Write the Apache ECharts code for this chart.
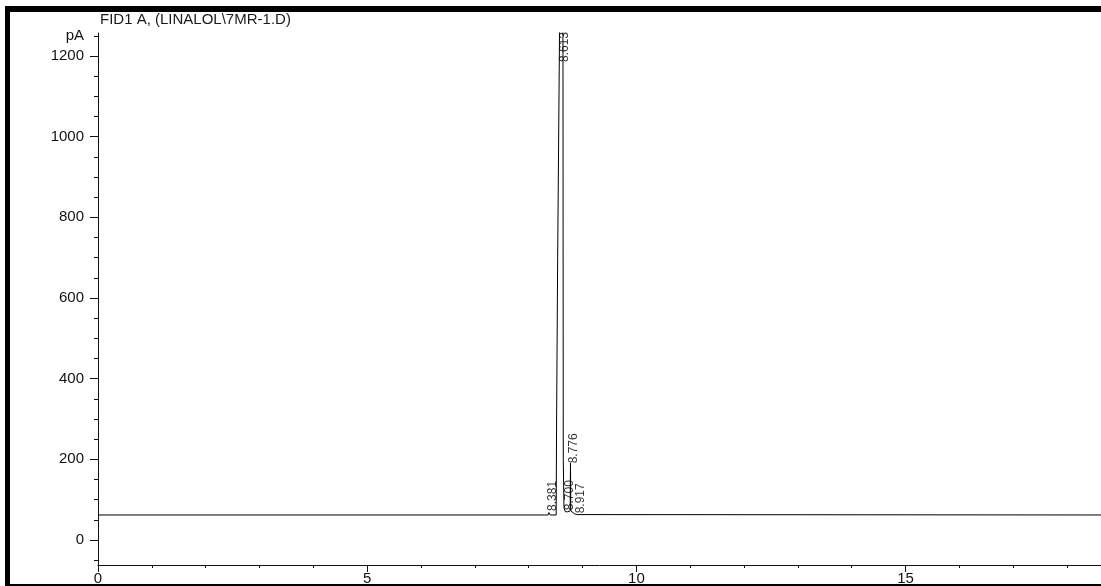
<!DOCTYPE html>
<html>
<head>
<meta charset="utf-8">
<script src="https://cdn.jsdelivr.net/npm/echarts@6/dist/echarts.min.js"></script>
<style>
  html, body { margin: 0; padding: 0; background: #fff; }
  #chart { width: 1101px; height: 586px; }
</style>
</head>
<body>
<div id="chart"></div>
<script>
// Signal header and axis unit
const signalTitle = 'FID1 A, (LINALOL\\7MR-1.D)';
const yUnit = 'pA';

// Axis ticks
const xMajorTicks = [0, 5, 10, 15];
const xMinorTicks = [1, 2, 3, 4, 6, 7, 8, 9, 11, 12, 13, 14, 16, 17, 18];
const yMajorTicks = [0, 200, 400, 600, 800, 1000, 1200];
const yMinorTicks = [-50, 50, 100, 150, 250, 300, 350, 450, 500, 550, 650, 700, 750,
                     850, 900, 950, 1050, 1100, 1150, 1250];

// Detector trace: retention time (min) and signal (pA)
const traceTime = [0, 8.36, 8.375, 8.381, 8.39, 8.40, 8.51, 8.518, 8.538, 8.575, 8.613,
                   8.636, 8.642, 8.655, 8.68, 8.70, 8.72, 8.77, 8.776, 8.782, 8.80,
                   8.85, 8.90, 8.917, 8.935, 18.63];
const traceSignal = [62, 62, 68, 70, 64, 62, 62, 290, 700, 1300, 3500,
                     1300, 200, 80, 70, 74, 70, 72, 190, 72, 68,
                     65, 63, 66, 62, 62];

// Integrated peaks: retention time and apex height (pA)
const peakTimes = [8.381, 8.613, 8.700, 8.776, 8.917];
const peakHeights = [72, 3500, 74, 190, 66];

const xMax = 18.63;
const yMin = -62, yMax = 1257;
const fontFam = '"Liberation Sans", Arial, sans-serif';

const chart = echarts.init(document.getElementById('chart'), null, { renderer: 'canvas' });

chart.setOption({
  animation: false,
  backgroundColor: '#fff',
  title: {
    text: signalTitle,
    left: 100, top: 12, padding: 0,
    textStyle: { fontSize: 15, fontWeight: 'normal', color: '#1a1a1a', fontFamily: fontFam }
  },
  grid: { left: 98, right: 0, top: 33, bottom: 19, containLabel: false },
  xAxis: [
    {
      type: 'value', min: 0, max: xMax, position: 'bottom',
      axisLine: { show: true, onZero: false, lineStyle: { color: '#111', width: 1 } },
      axisTick: { show: true, customValues: xMajorTicks, length: 7, lineStyle: { color: '#111' } },
      axisLabel: { customValues: xMajorTicks, margin: 6, fontSize: 15, color: '#111', fontFamily: fontFam },
      splitLine: { show: false }
    },
    {
      type: 'value', min: 0, max: xMax, position: 'bottom',
      axisLine: { show: false, onZero: false },
      axisTick: { show: true, customValues: xMinorTicks, length: 3, lineStyle: { color: '#111' } },
      axisLabel: { show: false },
      splitLine: { show: false }
    }
  ],
  yAxis: [
    {
      type: 'value', min: yMin, max: yMax, position: 'left',
      axisLine: { show: true, onZero: false, lineStyle: { color: '#111', width: 1 } },
      axisTick: { show: true, customValues: yMajorTicks, length: 8, lineStyle: { color: '#111' } },
      axisLabel: {
        customValues: yMajorTicks.concat([1250]),
        formatter: v => (v === 1250 ? yUnit : String(v)),
        margin: 14, fontSize: 15, color: '#111', fontFamily: fontFam
      },
      splitLine: { show: false }
    },
    {
      type: 'value', min: yMin, max: yMax, position: 'left',
      axisLine: { show: false, onZero: false },
      axisTick: { show: true, customValues: yMinorTicks, length: 4, lineStyle: { color: '#111' } },
      axisLabel: { show: false },
      splitLine: { show: false }
    }
  ],
  series: [
    {
      type: 'line',
      data: traceTime.map((t, i) => [t, traceSignal[i]]),
      showSymbol: false,
      clip: true,
      lineStyle: { color: '#000', width: 1 },
      xAxisIndex: 0, yAxisIndex: 0
    },
    {
      type: 'scatter',
      // off-scale apexes get their label pinned just under the top of the plot
      data: peakTimes.map((t, i) => [t, Math.min(peakHeights[i], 1185)]),
      symbolSize: 0,
      clip: false,
      xAxisIndex: 0, yAxisIndex: 0,
      label: {
        show: true,
        formatter: p => peakTimes[p.dataIndex].toFixed(3),
        rotate: 90,
        position: [3, 0],
        align: 'left',
        verticalAlign: 'middle',
        fontSize: 12,
        color: '#000',
        fontFamily: fontFam
      }
    }
  ],
  graphic: [
    { type: 'rect', shape: { x: 5, y: 6, width: 1096, height: 6 }, style: { fill: '#000' }, silent: true },
    { type: 'rect', shape: { x: 5, y: 6, width: 5, height: 580 }, style: { fill: '#000' }, silent: true },
    { type: 'rect', shape: { x: 5, y: 584, width: 1096, height: 2 }, style: { fill: '#000' }, silent: true }
  ]
});
</script>
</body>
</html>
